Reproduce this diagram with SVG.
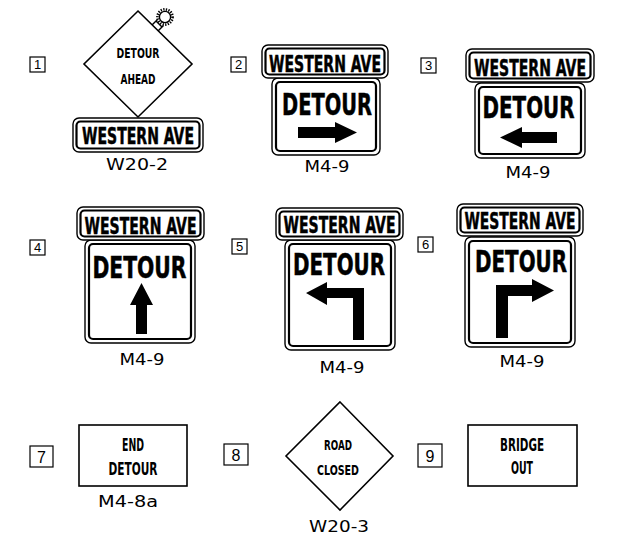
<svg xmlns="http://www.w3.org/2000/svg" width="620" height="549" viewBox="0 0 620 549">
<style>
.box{fill:#fff;stroke:#000;stroke-width:1.2}
.num{font-family:"Liberation Sans",sans-serif;font-size:13px;text-anchor:middle}
.num2{font-family:"Liberation Sans",sans-serif;font-size:16px;text-anchor:middle}
.code{font-family:"DejaVu Sans","Liberation Sans",sans-serif;font-size:15px;text-anchor:middle}
.hw{font-family:"DejaVu Sans Condensed","Liberation Sans Narrow","Liberation Sans",sans-serif;font-weight:bold;text-anchor:middle;stroke:#000;stroke-width:0.5}
.sm{font-family:"DejaVu Sans Condensed","Liberation Sans Narrow","Liberation Sans",sans-serif;font-weight:bold;text-anchor:middle}
.outer{fill:#fff;stroke:#000;stroke-width:1.4}
.inner{fill:none;stroke:#000;stroke-width:2.2}
.sign{fill:#fff;stroke:#000;stroke-width:1.6}
.ar{fill:#000;stroke:none}
</style>

<g id="sign1">
  <rect class="box" x="30" y="57" width="15" height="15"/>
  <text class="num" x="37.5" y="69">1</text>
  <polygon class="sign" points="138,11 192,64 138,117 84,64"/>
  <line x1="152" y1="25" x2="157.5" y2="19.5" stroke="#000" stroke-width="1.4"/>
  <line x1="158" y1="31" x2="163.5" y2="25.5" stroke="#000" stroke-width="1.4"/>
  <line x1="156" y1="21" x2="162" y2="27" stroke="#000" stroke-width="1.4"/>
  <circle cx="165" cy="17" r="7.6" fill="none" stroke="#000" stroke-width="2.6" stroke-dasharray="1.3 1.3"/>
  <circle cx="165" cy="17" r="5.6" fill="#fff" stroke="#000" stroke-width="1.4"/>
  <text class="sm" x="138" y="58" font-size="14.5" textLength="43" lengthAdjust="spacingAndGlyphs">DETOUR</text>
  <text class="sm" x="138" y="84" font-size="14.5" textLength="35" lengthAdjust="spacingAndGlyphs">AHEAD</text>
  <rect class="outer" x="73" y="118" width="130" height="34" rx="6"/>
  <rect class="inner" x="76.5" y="121.5" width="123" height="27" rx="4"/>
  <text class="hw" x="138" y="143.5" font-size="23" textLength="112" lengthAdjust="spacingAndGlyphs">WESTERN  AVE</text>
  <text class="code" x="137" y="170" textLength="62" lengthAdjust="spacingAndGlyphs">W20-2</text>
</g>

<g id="sign2">
  <rect class="box" x="231" y="57" width="15" height="15"/>
  <text class="num" x="238.5" y="69">2</text>
  <rect class="outer" x="272" y="78" width="108" height="77" rx="6"/>
  <rect class="inner" x="276" y="82" width="100" height="69" rx="4"/>
  <rect class="outer" x="262" y="45" width="126" height="33" rx="6"/>
  <rect class="inner" x="265.5" y="48.5" width="119" height="26" rx="4"/>
  <text class="hw" x="325" y="71.5" font-size="23" textLength="112" lengthAdjust="spacingAndGlyphs">WESTERN  AVE</text>
  <text class="hw" x="327" y="115" font-size="30" textLength="90" lengthAdjust="spacingAndGlyphs">DETOUR</text>
  <polygon class="ar" points="298,127 335,127 335,122 357,132.5 335,143 335,138 298,138"/>
  <text class="code" x="327" y="172" font-size="14" textLength="45" lengthAdjust="spacingAndGlyphs">M4-9</text>
</g>

<g id="sign3">
  <rect class="box" x="421" y="58" width="15" height="15"/>
  <text class="num" x="428.5" y="70">3</text>
  <rect class="outer" x="475" y="83" width="110" height="75" rx="6"/>
  <rect class="inner" x="479" y="87" width="102" height="67" rx="4"/>
  <rect class="outer" x="466" y="49" width="128" height="33" rx="6"/>
  <rect class="inner" x="469.5" y="52.5" width="121" height="26" rx="4"/>
  <text class="hw" x="530" y="75.5" font-size="23" textLength="112" lengthAdjust="spacingAndGlyphs">WESTERN  AVE</text>
  <text class="hw" x="528.5" y="118" font-size="30" textLength="92" lengthAdjust="spacingAndGlyphs">DETOUR</text>
  <polygon class="ar" points="557,132 522,132 522,127 500,137.5 522,148 522,143 557,143"/>
  <text class="code" x="528" y="178" font-size="14" textLength="45" lengthAdjust="spacingAndGlyphs">M4-9</text>
</g>

<g id="sign4">
  <rect class="box" x="30" y="240" width="15" height="15"/>
  <text class="num" x="37.5" y="252">4</text>
  <rect class="outer" x="85" y="240" width="110" height="103" rx="6"/>
  <rect class="inner" x="89" y="244" width="102" height="95" rx="4"/>
  <rect class="outer" x="77" y="207" width="127" height="33" rx="6"/>
  <rect class="inner" x="80.5" y="210.5" width="120" height="26" rx="4"/>
  <text class="hw" x="140.5" y="233.5" font-size="23" textLength="112" lengthAdjust="spacingAndGlyphs">WESTERN  AVE</text>
  <text class="hw" x="139.5" y="278" font-size="30" textLength="94" lengthAdjust="spacingAndGlyphs">DETOUR</text>
  <polygon class="ar" points="141.5,283 153,305 147,305 147,334 136,334 136,305 130,305"/>
  <text class="code" x="142" y="365" font-size="14" textLength="45" lengthAdjust="spacingAndGlyphs">M4-9</text>
</g>

<g id="sign5">
  <rect class="box" x="232" y="239" width="15" height="15"/>
  <text class="num" x="239.5" y="251">5</text>
  <rect class="outer" x="285" y="240" width="110" height="110" rx="6"/>
  <rect class="inner" x="289" y="244" width="102" height="102" rx="4"/>
  <rect class="outer" x="276" y="208" width="127" height="32" rx="6"/>
  <rect class="inner" x="279.5" y="211.5" width="120" height="25" rx="4"/>
  <text class="hw" x="339.5" y="233" font-size="23" textLength="112" lengthAdjust="spacingAndGlyphs">WESTERN  AVE</text>
  <text class="hw" x="339" y="275" font-size="30" textLength="92" lengthAdjust="spacingAndGlyphs">DETOUR</text>
  <polygon class="ar" points="364,288 364,340 353,340 353,298 327,298 327,305 306,293 327,282 327,288"/>
  <text class="code" x="342" y="373" font-size="14" textLength="45" lengthAdjust="spacingAndGlyphs">M4-9</text>
</g>

<g id="sign6">
  <rect class="box" x="418" y="237" width="15" height="15"/>
  <text class="num" x="425.5" y="249">6</text>
  <rect class="outer" x="465" y="237" width="110" height="110" rx="6"/>
  <rect class="inner" x="469" y="241" width="102" height="102" rx="4"/>
  <rect class="outer" x="457" y="204" width="126" height="32" rx="6"/>
  <rect class="inner" x="460.5" y="207.5" width="119" height="25" rx="4"/>
  <text class="hw" x="520" y="229" font-size="23" textLength="111" lengthAdjust="spacingAndGlyphs">WESTERN  AVE</text>
  <text class="hw" x="521" y="272" font-size="30" textLength="92" lengthAdjust="spacingAndGlyphs">DETOUR</text>
  <polygon class="ar" points="496,285 532,285 532,279 554,290.5 532,302 532,296 508,296 508,338 496,338"/>
  <text class="code" x="522" y="367" font-size="14" textLength="45" lengthAdjust="spacingAndGlyphs">M4-9</text>
</g>

<g id="sign7">
  <rect class="box" x="30" y="446" width="23" height="21"/>
  <text class="num2" x="41.5" y="462.5">7</text>
  <rect class="sign" x="79" y="425" width="108" height="61"/>
  <text class="sm" x="133" y="451" font-size="17" textLength="22" lengthAdjust="spacingAndGlyphs">END</text>
  <text class="sm" x="133" y="475" font-size="17" textLength="49" lengthAdjust="spacingAndGlyphs">DETOUR</text>
  <text class="code" x="128" y="507" font-size="17" textLength="60" lengthAdjust="spacingAndGlyphs">M4-8a</text>
</g>

<g id="sign8">
  <rect class="box" x="224" y="444" width="24" height="21"/>
  <text class="num2" x="236" y="460.5">8</text>
  <polygon class="sign" points="340,402 393,456 340,510 286,456"/>
  <text class="sm" x="338" y="450" font-size="14" textLength="28" lengthAdjust="spacingAndGlyphs">ROAD</text>
  <text class="sm" x="338" y="475" font-size="14" textLength="42" lengthAdjust="spacingAndGlyphs">CLOSED</text>
  <text class="code" x="339" y="532" font-size="16" textLength="60" lengthAdjust="spacingAndGlyphs">W20-3</text>
</g>

<g id="sign9">
  <rect class="box" x="418" y="444" width="24" height="23"/>
  <text class="num2" x="430" y="461.5">9</text>
  <rect class="sign" x="468" y="425" width="109" height="61"/>
  <text class="sm" x="522" y="451" font-size="17" textLength="44" lengthAdjust="spacingAndGlyphs">BRIDGE</text>
  <text class="sm" x="522" y="474" font-size="17" textLength="22" lengthAdjust="spacingAndGlyphs">OUT</text>
</g>

<g id="connectors"></g>
</svg>
